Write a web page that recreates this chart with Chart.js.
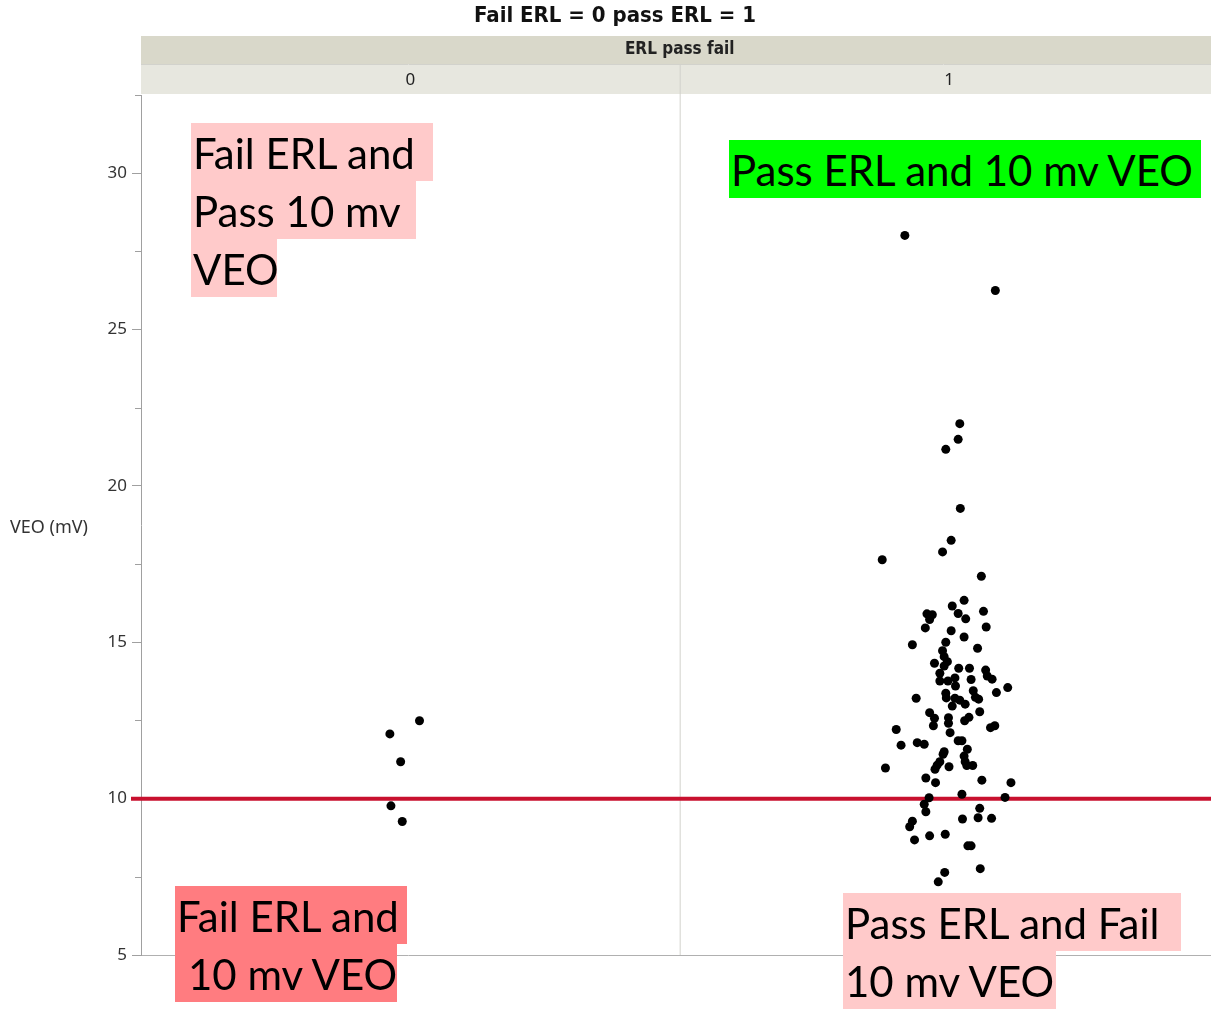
<!DOCTYPE html>
<html lang="en">
<head>
<meta charset="UTF-8">
<title>VEO by ERL pass fail</title>
<script src="https://cdn.jsdelivr.net/npm/chart.js"></script>
<style>
  body { margin: 0; background: #fff; }
  #wrap { position: relative; width: 1211px; height: 1009px; overflow: hidden; }
  #chart { position: absolute; left: 0; top: 0; }
  .title { position: absolute; top: 2px; left: 615px; transform: translateX(-50%);
           font: bold 22px "DejaVu Sans Condensed", "Noto Sans", sans-serif; color: #111; white-space: nowrap; }
  .ytitle { position: absolute; left: 10px; top: 514px; font: 18px "Noto Sans", sans-serif; color: #333; }
  .note { position: absolute; font: 42px Lato, "Noto Sans", sans-serif; color: #000; white-space: nowrap; }
  .note span { display: block; height: 58px; line-height: 60px; padding-left: 2px; box-sizing: border-box; }
  .pink span { background: #ffcaca; }
  .green span { background: #00ff00; }
  .salmon span { background: #ff7c80; }
</style>
</head>
<body>
<div id="wrap">
  <canvas id="chart" width="1211" height="1009"></canvas>
  <div class="title">Fail ERL = 0 pass ERL = 1</div>
  <div class="ytitle">VEO (mV)</div>

  <div class="note pink" style="left:191px; top:123px;">
    <span style="width:242px">Fail ERL and</span>
    <span style="width:225px">Pass 10 mv</span>
    <span style="width:86px">VEO</span>
  </div>
  <div class="note green" style="left:729px; top:140px;">
    <span style="width:472px">Pass ERL and 10 mv VEO</span>
  </div>
  <div class="note salmon" style="left:175px; top:886px;">
    <span style="width:232px">Fail ERL and</span>
    <span style="width:222px; padding-left:13px">10 mv VEO</span>
  </div>
  <div class="note pink" style="left:843px; top:893px;">
    <span style="width:338px">Pass ERL and Fail</span>
    <span style="width:213px">10 mv VEO</span>
  </div>
</div>

<script>
  const facetTitle = 'ERL pass fail';
  const categories = [0, 1];
  const categoryLabels = ['0', '1'];
  const refLine = 10;

  // ERL pass fail = 0
  const failJitter = [0.017, -0.038, -0.018, -0.036, -0.015];
  const failVEO = [12.49, 12.07, 11.18, 9.77, 9.27];

  // ERL pass fail = 1
  const passJitter = [
    -0.082, 0.086, 0.020, 0.017, -0.006, 0.021, 0.004, -0.012, -0.124, 0.060,
    0.028, 0.006, -0.041, -0.031, -0.036, 0.017, 0.064, 0.031, -0.044, 0.004,
    0.069, -0.068, 0.028, -0.006, 0.053, -0.012, -0.009, -0.027, -0.003, -0.009,
    0.018, 0.038, 0.068, -0.017, 0.071, 0.080, 0.011, -0.002, -0.017, 0.041,
    0.012, 0.109, 0.088, 0.045, -0.006, -0.061, -0.005, 0.011, 0.020, 0.049,
    0.055, 0.030, 0.006, -0.036, 0.057, -0.027, -0.001, 0.037, 0.029, -0.029,
    -0.001, -0.098, 0.077, 0.085, 0.002, 0.017, 0.024, -0.089, -0.059, -0.046,
    -0.009, -0.011, 0.034, 0.028, 0.030, 0.033, 0.044, -0.017, -0.022, -0.026,
    0.000, -0.118, -0.043, -0.025, 0.061, 0.115, 0.024, -0.037, 0.104, -0.046,
    -0.043, 0.057, -0.068, -0.073, 0.025, 0.054, 0.079, -0.064, -0.036, -0.007,
    0.035, 0.041, 0.058, -0.008, -0.020
  ];
  const passVEO = [
    28.01, 26.25, 21.99, 21.49, 21.17, 19.28, 18.26, 17.89, 17.64, 17.11,
    16.34, 16.16, 15.91, 15.88, 15.73, 15.92, 15.99, 15.75, 15.46, 15.37,
    15.49, 14.92, 15.17, 15.00, 14.81, 14.73, 14.54, 14.33, 14.38, 14.24,
    14.17, 14.17, 14.11, 14.01, 13.92, 13.82, 13.86, 13.76, 13.76, 13.81,
    13.60, 13.55, 13.39, 13.45, 13.37, 13.21, 13.22, 13.21, 13.15, 13.24,
    13.18, 13.02, 12.96, 12.75, 12.78, 12.57, 12.59, 12.60, 12.49, 12.33,
    12.41, 12.21, 12.27, 12.33, 12.11, 11.85, 11.85, 11.71, 11.79, 11.74,
    11.50, 11.42, 11.58, 11.36, 11.18, 11.06, 11.06, 11.18, 11.07, 10.94,
    11.02, 10.98, 10.66, 10.51, 10.59, 10.51, 10.14, 10.03, 10.04, 9.82,
    9.58, 9.69, 9.28, 9.10, 9.35, 9.39, 9.37, 8.68, 8.81, 8.86,
    8.49, 8.49, 7.76, 7.64, 7.34
  ];

  const points = [
    ...failVEO.map((v, i) => ({ x: categories[0] + failJitter[i], y: v })),
    ...passVEO.map((v, i) => ({ x: categories[1] + passJitter[i], y: v }))
  ];

  const facetPlugin = {
    id: 'facet',
    beforeDraw(chart) {
      const { ctx, chartArea: a, scales: { x } } = chart;
      const right = chart.width;
      const mid = x.getPixelForValue(0.5);
      ctx.save();
      ctx.fillStyle = '#d9d8ca';
      ctx.fillRect(a.left, 36, right - a.left, 28);
      ctx.fillStyle = '#e7e7df';
      ctx.fillRect(a.left, 65, right - a.left, 29);
      ctx.strokeStyle = '#d2d2cc';
      ctx.lineWidth = 1;
      ctx.beginPath();
      ctx.moveTo(a.left, 64.5); ctx.lineTo(right, 64.5);
      ctx.moveTo(mid + 0.5, 65); ctx.lineTo(mid + 0.5, a.bottom);
      ctx.stroke();
      ctx.strokeStyle = '#b0b0b0';
      ctx.beginPath();
      ctx.moveTo(a.left, a.bottom + 0.5); ctx.lineTo(right, a.bottom + 0.5);
      ctx.stroke();
      ctx.fillStyle = '#222';
      ctx.textAlign = 'center';
      ctx.textBaseline = 'middle';
      ctx.font = 'bold 17px "DejaVu Sans Condensed", "Noto Sans", sans-serif';
      ctx.fillText(facetTitle, mid, 50);
      ctx.font = '17px "Noto Sans", sans-serif';
      categories.forEach((c, i) => ctx.fillText(categoryLabels[i], x.getPixelForValue(c), 80));
      ctx.restore();
    },
    beforeDatasetsDraw(chart) {
      const { ctx, chartArea: a, scales: { y } } = chart;
      const py = y.getPixelForValue(refLine);
      ctx.save();
      ctx.strokeStyle = '#c8102e';
      ctx.lineWidth = 4;
      ctx.beginPath();
      ctx.moveTo(a.left - 10, py); ctx.lineTo(chart.width, py);
      ctx.stroke();
      ctx.restore();
    },
    afterDraw(chart) {
      // short minor ticks
      const { ctx, chartArea: a, scales: { y } } = chart;
      ctx.save();
      ctx.strokeStyle = '#a0a0a0';
      ctx.lineWidth = 1;
      ctx.beginPath();
      y.ticks.forEach(t => {
        if (t.value % 5 !== 0) {
          const py = Math.round(y.getPixelForValue(t.value)) + 0.5;
          ctx.moveTo(a.left - 6, py); ctx.lineTo(a.left, py);
        }
      });
      ctx.stroke();
      ctx.restore();
    }
  };

  new Chart(document.getElementById('chart'), {
    type: 'scatter',
    data: {
      datasets: [{
        data: points,
        backgroundColor: '#000',
        borderWidth: 0,
        pointRadius: 4.5,
        pointHoverRadius: 4.5
      }]
    },
    options: {
      responsive: false,
      animation: false,
      events: [],
      layout: { padding: { top: 95, bottom: 54, left: 0, right: 0 } },
      plugins: { legend: { display: false }, tooltip: { enabled: false } },
      scales: {
        x: { type: 'linear', min: -0.5, max: 1.478, display: false },
        y: {
          min: 5, max: 32.5,
          afterFit(s) { s.width = 141; },
          ticks: {
            stepSize: 2.5, autoSkip: false, padding: 5, color: '#333',
            font: { family: 'Noto Sans', size: 17 },
            callback: v => (v % 5 === 0 ? v : '')
          },
          grid: {
            drawOnChartArea: false, tickLength: 9,
            tickColor: c => (c.tick && c.tick.value % 5 === 0 ? '#a0a0a0' : 'transparent')
          },
          border: { color: '#a0a0a0' }
        }
      }
    },
    plugins: [facetPlugin]
  });
</script>
</body>
</html>
